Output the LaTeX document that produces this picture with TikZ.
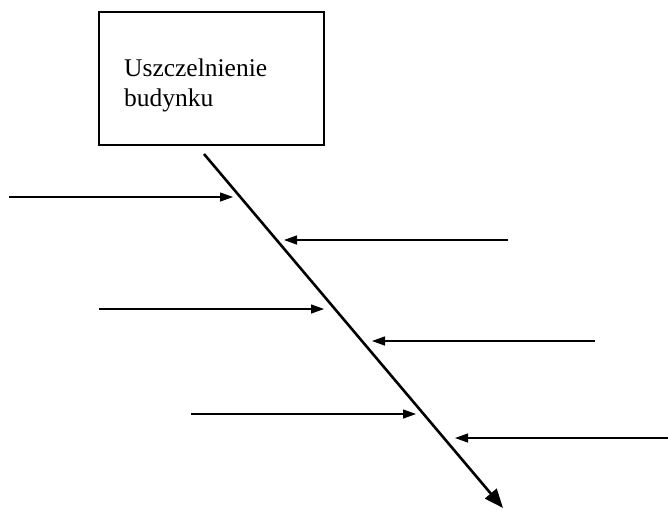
\documentclass[tikz,border=0pt]{standalone}
\usepackage{fontspec}
\setmainfont{Liberation Serif}
\usetikzlibrary{arrows.meta}
\begin{document}
\begin{tikzpicture}[x=1pt,y=-1pt,
  boxstyle/.style={draw, line width=1.4pt, minimum width=225pt, minimum height=133pt, inner sep=0pt},
  labelstyle/.style={inner sep=0pt, align=left, font=\fontsize{25.5}{30}\selectfont},
  spinestyle/.style={line width=2.6pt, -{Triangle[length=19pt,width=15pt]}},
  branchstyle/.style={line width=1.3pt, -{Triangle[length=13pt,width=9pt]}}]
\useasboundingbox (0,0) rectangle (668,509);
\node[boxstyle] (box) at (211.5,78.5) {};
\node[labelstyle, anchor=north west] (txt) at (124,59) {Uszczelnienie\\budynku};
\coordinate (s0) at (204,154);
\coordinate (s1) at (503,508);
\draw[spinestyle] (s0) -- (s1);
\coordinate (a1) at (9,197);   \coordinate (t1) at (233,197);
\coordinate (a2) at (508,240); \coordinate (t2) at (284,240);
\coordinate (a3) at (99,309);  \coordinate (t3) at (324,309);
\coordinate (a4) at (595,341); \coordinate (t4) at (372,341);
\coordinate (a5) at (191,414); \coordinate (t5) at (416,414);
\coordinate (a6) at (668,438); \coordinate (t6) at (455,438);
\foreach \i in {1,...,6} {\draw[branchstyle] (a\i) -- (t\i);}
\end{tikzpicture}
\end{document}
